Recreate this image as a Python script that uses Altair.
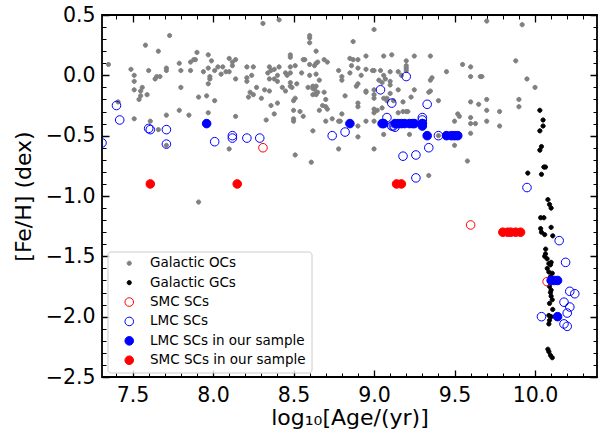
import altair as alt
import pandas as pd

# ---------------- data ----------------
oc_age = [
    7.35, 7.49, 7.51, 7.51, 7.51, 7.54, 7.55, 7.55, 7.56, 7.59,
    7.60, 7.58, 7.66, 7.73, 7.64, 7.65, 7.67, 7.71, 7.71, 7.79,
    7.80, 7.80, 7.79, 7.85, 7.86, 7.86, 7.88, 7.89, 7.90, 7.91,
    7.94, 7.96, 7.97, 7.97, 7.99, 8.01, 8.01, 7.97, 7.98, 7.98,
    7.97, 8.03, 8.05, 8.06, 8.08, 7.51, 7.61, 7.66, 7.71, 7.71,
    7.91, 7.41,
    8.31, 8.41, 8.10, 8.12, 8.12, 8.14, 8.10, 8.14, 8.21, 8.21,
    8.21, 8.25, 8.24, 8.27, 8.23, 8.25, 8.22, 8.30, 8.32, 8.35,
    8.35, 8.36, 8.34, 8.38, 8.41, 8.40, 8.35, 8.38, 8.40, 8.43,
    8.45, 8.48, 8.49, 8.48, 8.45, 8.46, 8.48, 8.48, 8.48, 8.48,
    8.51, 8.52, 8.50, 8.51, 8.55, 8.56, 8.57, 8.60, 8.60, 8.60,
    8.64, 8.60, 8.60, 8.63, 8.64, 8.65, 8.69, 8.71, 8.64, 8.59,
    8.62, 8.62, 8.63, 8.64, 8.66, 8.69, 8.65, 8.62, 8.64, 8.64,
    8.70, 8.68, 8.70, 8.71, 8.66, 8.36, 8.38, 8.33, 8.40, 8.50,
    8.50, 8.50, 8.54, 8.56, 8.62, 8.70, 8.74, 8.14, 8.10, 8.51,
    8.61, 8.78, 8.80, 8.78, 8.79, 8.82, 8.78, 8.80, 8.80, 8.85,
    8.86, 8.87,
    9.00, 8.85, 8.87, 8.90, 8.95, 9.06, 9.11, 9.25, 9.35, 8.90,
    8.92, 8.95, 8.99, 9.00, 9.04, 9.10, 9.15, 9.17, 9.20, 9.20,
    9.20, 9.20, 9.06, 9.07, 9.03, 9.10, 9.10, 9.05, 8.90, 8.89,
    8.95, 8.95, 9.00, 9.00, 9.00, 9.06, 9.08, 9.08, 9.10, 9.15,
    9.18, 9.23, 9.25, 9.12, 9.35, 9.36, 9.34, 9.35, 9.40, 9.45,
    9.55, 9.60, 9.60, 9.66, 8.90, 8.90, 9.00, 9.02, 9.00, 9.05,
    9.15, 9.18, 9.20, 9.21, 8.95, 9.00, 8.90, 8.90, 9.06, 9.22,
    9.50, 9.52, 9.53, 9.60, 9.60, 9.60, 9.63, 9.65, 9.50, 9.60,
    9.00, 9.58, 9.34, 9.40,
    9.70, 9.92, 9.88, 9.67, 9.95, 10.00, 9.70, 9.70, 9.78, 9.90,
    9.90, 9.70, 9.78,
]
oc_feh = [
    0.09, 0.05, 0.00, -0.05, -0.12, -0.20, -0.17, -0.13, -0.10, -0.16,
    0.04, 0.25, 0.20, 0.33, -0.03, -0.01, -0.01, 0.06, 0.04, 0.10,
    0.04, -0.10, -0.29, -0.33, 0.04, 0.11, 0.13, 0.13, 0.19, -0.18,
    0.03, -0.17, 0.17, 0.06, 0.12, 0.04, -0.21, -0.31, -0.01, -0.03,
    -0.07, 0.07, 0.01, 0.07, 0.03, -0.36, -0.38, -0.45, -0.33, -0.58,
    -1.05, -0.22,
    0.43, 0.46, 0.14, 0.11, 0.08, 0.13, 0.03, -0.03, 0.07, -0.02,
    -0.05, 0.07, 0.00, -0.10, -0.14, -0.16, -0.18, -0.19, -0.12, -0.13,
    0.07, 0.04, 0.02, 0.05, 0.07, 0.00, -0.03, -0.03, -0.05, -0.10,
    -0.13, -0.09, -0.10, -0.06, 0.02, 0.00, 0.02, 0.07, 0.15, 0.17,
    0.08, -0.07, -0.21, -0.19, 0.02, 0.13, 0.13, 0.33, 0.31, 0.27,
    0.20, 0.09, 0.00, 0.08, 0.10, 0.11, 0.13, 0.11, 0.01, -0.10,
    -0.09, -0.11, -0.11, -0.09, -0.04, -0.14, -0.14, -0.16, -0.16, -0.14,
    -0.20, -0.25, -0.26, -0.28, -0.29, -0.25, -0.32, -0.37, -0.23, -0.29,
    -0.36, -0.38, -0.30, -0.34, -0.46, -0.38, -0.36, -0.34, -0.61, -0.66,
    -0.72, -0.61, -0.32, -0.38, -0.38, -0.17, 0.04, -0.01, -0.04, 0.02,
    0.08, 0.28,
    0.38, 0.14, 0.13, 0.13, 0.16, 0.16, 0.17, 0.16, 0.16, 0.06,
    0.00, 0.05, 0.04, 0.04, 0.04, 0.03, 0.03, 0.00, 0.12, 0.08,
    0.06, 0.04, 0.00, -0.03, -0.04, -0.05, -0.08, -0.06, -0.07, -0.09,
    -0.13, -0.14, -0.12, -0.16, -0.19, -0.19, -0.19, -0.21, -0.15, -0.12,
    -0.22, -0.18, -0.12, -0.21, -0.04, -0.02, -0.14, -0.13, -0.21, 0.03,
    0.09, 0.07, -0.01, -0.01, -0.23, -0.26, -0.28, -0.29, -0.31, -0.27,
    -0.31, -0.30, -0.30, -0.30, -0.38, -0.38, -0.42, -0.51, -0.49, -0.49,
    -0.38, -0.32, -0.34, -0.22, -0.35, -0.40, -0.40, -0.24, -0.58, -0.48,
    -0.61, -0.71, -0.83, -0.50,
    0.45, 0.42, 0.12, -0.01, -0.03, -0.10, -0.20, -0.29, -0.30, -0.20,
    -0.26, -0.38, -0.42,
]

gc_age = [
    10.03, 10.05, 10.05, 10.03, 10.04, 10.03, 10.055, 10.065, 9.955, 10.04,
    10.08, 10.09, 10.10, 10.035, 10.055, 10.035, 10.04, 10.10, 10.06, 10.11,
    10.066, 10.065, 10.06, 10.075, 10.086, 10.096, 10.10, 10.076, 10.086, 10.107,
    10.096, 10.09, 10.10, 10.096, 10.10, 10.107, 10.09, 10.11, 10.086, 10.10,
    10.09, 10.086, 10.08, 10.086, 10.096, 10.107,
]
gc_feh = [
    -0.29, -0.37, -0.42, -0.46, -0.59, -0.62, -0.76, -0.76, -0.81, -0.82,
    -1.03, -1.07, -1.10, -1.18, -1.18, -1.27, -1.30, -1.26, -1.32, -1.33,
    -1.44, -1.48, -1.50, -1.52, -1.56, -1.57, -1.55, -1.60, -1.63, -1.64,
    -1.67, -1.75, -1.78, -1.80, -1.83, -1.86, -1.89, -1.94, -1.99, -2.00,
    -2.03, -2.06, -2.27, -2.29, -2.32, -2.34,
]

smc_age = [8.31, 9.60, 10.075]
smc_feh = [-0.60, -1.24, -1.71]

lmc_age = [
    7.40, 7.42, 7.61, 7.60, 7.71, 7.31, 7.71, 8.01, 8.12, 8.12,
    8.21, 8.29, 8.74, 8.82, 9.20, 9.04, 9.11, 9.33, 9.08, 9.12,
    9.11, 9.13, 9.30, 9.30, 9.30, 9.40, 9.34, 9.26, 9.18, 9.26,
    9.95, 10.15, 10.19, 10.216, 10.247, 10.18, 10.216, 10.20, 10.04, 10.18,
    10.20,
]
lmc_feh = [
    -0.25, -0.37, -0.45, -0.44, -0.45, -0.56, -0.57, -0.55, -0.50, -0.52,
    -0.52, -0.52, -0.50, -0.47, -0.01, -0.12, -0.23, -0.24, -0.35, -0.42,
    -0.42, -0.43, -0.35, -0.37, -0.40, -0.50, -0.60, -0.66, -0.67, -0.85,
    -0.93, -1.37, -1.55, -1.79, -1.81, -1.88, -1.92, -1.97, -2.00, -2.06,
    -2.08,
]

lmc_s_age = [7.96, 8.85, 9.05, 9.06, 9.13, 9.15, 9.17, 9.19, 9.22, 9.24,
             9.25, 9.30, 9.30, 9.33, 9.45, 9.48, 9.50, 9.52, 10.10, 10.12,
             10.14, 10.14]
lmc_s_feh = [-0.40, -0.40, -0.40, -0.40, -0.40, -0.40, -0.40, -0.40, -0.40, -0.40,
             -0.40, -0.40, -0.42, -0.50, -0.50, -0.50, -0.50, -0.50, -1.70, -1.70,
             -1.70, -2.00]

smc_s_age = [7.61, 8.15, 9.14, 9.17, 9.80, 9.83, 9.85, 9.88, 9.91]
smc_s_feh = [-0.90, -0.90, -0.90, -0.90, -1.30, -1.30, -1.30, -1.30, -1.30]

groups = ["Galactic OCs", "Galactic GCs", "SMC SCs", "LMC SCs",
          "LMC SCs in our sample", "SMC SCs in our sample"]

x_major = [7.5, 8.0, 8.5, 9.0, 9.5, 10.0]
x_minor = [7.4, 7.6, 7.7, 7.8, 7.9, 8.1, 8.2, 8.3, 8.4, 8.6, 8.7, 8.8, 8.9,
           9.1, 9.2, 9.3, 9.4, 9.6, 9.7, 9.8, 9.9, 10.1, 10.2, 10.3]
y_major = [-2.5, -2.0, -1.5, -1.0, -0.5, 0.0, 0.5]
y_minor = [-2.4, -2.3, -2.2, -2.1, -1.9, -1.8, -1.7, -1.6, -1.4, -1.3, -1.2, -1.1,
           -0.9, -0.8, -0.7, -0.6, -0.4, -0.3, -0.2, -0.1, 0.1, 0.2, 0.3, 0.4]

X_LIM = [7.31, 10.385]
Y_LIM = [-2.5, 0.5]

# ---------------- table ----------------
parts = [
    (oc_age, oc_feh, groups[0]),
    (gc_age, gc_feh, groups[1]),
    (smc_age, smc_feh, groups[2]),
    (lmc_age, lmc_feh, groups[3]),
    (lmc_s_age, lmc_s_feh, groups[4]),
    (smc_s_age, smc_s_feh, groups[5]),
]
rows = []
for a_list, f_list, g in parts:
    for a, f in zip(a_list, f_list):
        rows.append({"age": a, "feh": f, "group": g})
df = pd.DataFrame(rows)

W, H = 495, 362
FONT = "DejaVu Sans"
XT = "log₁₀[Age/(yr)]"
YT = "[Fe/H] (dex)"
MAJ, MIN = 7, 4

# inward ticks on all four sides: grid lines dashed so only both ends show
IS_MAJOR = "abs(datum.value * 2 - round(datum.value * 2)) < 0.001"
LABEL = f"{IS_MAJOR} ? format(datum.value, '.1f') : ''"


def tick_axis(tick_values, length, label_pad, title_pad):
    return alt.Axis(
        values=tick_values, labelExpr=LABEL, labelPadding=label_pad, titlePadding=title_pad,
        grid=True, gridColor="black", gridOpacity=1,
        gridWidth={"condition": {"test": IS_MAJOR, "value": 1.3}, "value": 1.0},
        gridDash={"condition": {"test": IS_MAJOR, "value": [MAJ, length - 2 * MAJ, MAJ]},
                  "value": [MIN, length - 2 * MIN, MIN]},
    )


xaxis = tick_axis(sorted(x_major + x_minor), H, 8, 2)
yaxis = tick_axis(sorted(y_major + y_minor), W, 7, 10)


def circ(r):
    return f"M {-r} 0 A {r} {r} 0 1 0 {r} 0 A {r} {r} 0 1 0 {-r} 0 Z"


small = circ(0.42)
big = circ(0.86)

fills = ["#808080", "#000000", "transparent", "transparent", "#0000ff", "#ff0000"]
strokes = ["#808080", "#000000", "#ff0000", "#0000ff", "#0000ff", "#ff0000"]
shapes = [small, small, big, big, big, big]

leg = alt.Legend(
    title=None, orient="none", legendX=5.5, legendY=236.5,
    padding=5, symbolOffset=10, labelOffset=14, rowPadding=4.4,
    labelFontSize=13.5, labelFont=FONT, labelColor="black",
    fillColor="rgba(255,255,255,0.8)", strokeColor="#cccccc", cornerRadius=3,
    symbolStrokeWidth=1, symbolSize=100, symbolOpacity=1,
)

chart = alt.Chart(df).mark_point(
    filled=True, size=100, strokeWidth=1, opacity=1, clip=True
).encode(
    x=alt.X("age:Q", scale=alt.Scale(domain=X_LIM, nice=False, zero=False), title=XT, axis=xaxis),
    y=alt.Y("feh:Q", scale=alt.Scale(domain=Y_LIM, nice=False, zero=False), title=YT, axis=yaxis),
    fill=alt.Fill("group:N", scale=alt.Scale(domain=groups, range=fills), legend=leg),
    stroke=alt.Stroke("group:N", scale=alt.Scale(domain=groups, range=strokes), legend=leg),
    shape=alt.Shape("group:N", scale=alt.Scale(domain=groups, range=shapes), legend=leg),
).properties(
    width=W, height=H,
    autosize="none",
    padding={"left": 102, "top": 15, "right": 9, "bottom": 55},
).configure_view(
    stroke="black", strokeWidth=1.8
).configure_axis(
    labelFont=FONT, titleFont=FONT, labelFontSize=20.5, titleFontSize=22,
    titleFontWeight="normal", labelColor="black", titleColor="black",
    ticks=False, domain=False,
)

chart.save("out.html", embed_options={"renderer": "svg", "actions": False})
